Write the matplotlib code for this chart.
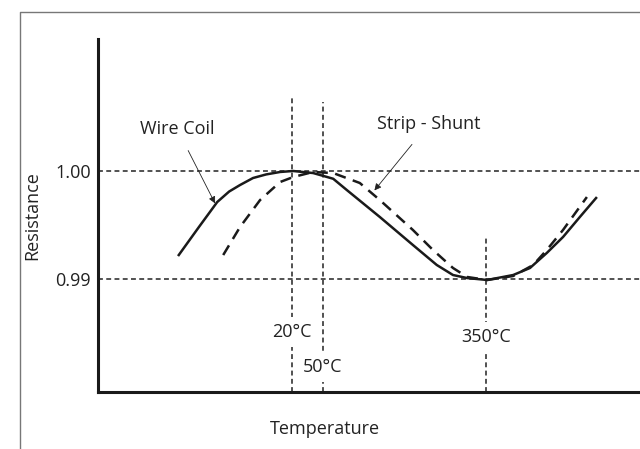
import numpy as np
import matplotlib.pyplot as plt
from matplotlib.lines import Line2D

plt.rcParams['font.family'] = ['Open Sans', 'DejaVu Sans']
plt.rcParams['font.size'] = 13

# 数据 (横轴为任意单位, 0~100)
wire_x = [14.9, 18.6, 22.0, 24.2, 26.2, 28.6, 31.0, 33.6, 36.0, 39.7, 42.3, 43.4,
          45.9, 52.0, 58.1, 62.5, 65.5, 68.1, 71.8, 76.6, 79.7, 82.8, 85.8, 88.9, 91.9]
wire_y = [0.99222, 0.99480, 0.99713, 0.99810, 0.99870, 0.99935, 0.99968, 0.99991,
          1.00000, 0.99981, 0.99944, 0.99928, 0.99824, 0.99574, 0.99315, 0.99130,
          0.99037, 0.99009, 0.98991, 0.99037, 0.99102, 0.99241, 0.99389, 0.99574, 0.99750]
shunt_x = [23.1, 26.2, 29.9, 33.6, 36.0, 39.7, 43.4, 48.3, 52.0, 58.1, 61.8,
           65.5, 68.1, 71.8, 76.6, 80.3, 82.8, 85.8, 90.2]
shunt_y = [0.99222, 0.99481, 0.99731, 0.99898, 0.99944, 0.99991, 0.99981, 0.99889,
           0.99731, 0.99454, 0.99269, 0.99102, 0.99019, 0.98991, 0.99028, 0.99130,
           0.99269, 0.99454, 0.99759]
temp_x = [35.8, 41.5, 71.6]
temp_lbl = ['20°C', '50°C', '350°C']
temp_top = [1.00704, 1.00639, 0.99380]
temp_lbl_y = [0.98509, 0.98185, 0.98463]
res_ticks = [0.99, 1.00]
res_lbl = ['0.99', '1.00']

fig = plt.figure(figsize=(6.4, 4.49), dpi=100)
ax = fig.add_axes([98/640, 1-392/449, 1-98/640, 353/449])
ax.set_xlim(0, 100)
ax.set_ylim(0.97954, 1.01222)

# 参考虚线
for v in res_ticks:
    ax.axhline(v, color='#222222', lw=1.1, ls=(0, (3.2, 2.2)), zorder=1)
for x, top, lbl, ly in zip(temp_x, temp_top, temp_lbl, temp_lbl_y):
    ax.vlines(x, 0.97954, top, color='#222222', lw=1.1, ls=(0, (3.2, 2.2)), zorder=1)
    ax.text(x, ly, lbl, ha='center', va='center', color='#222222',
            bbox=dict(fc='white', ec='none', pad=4), zorder=2)

# 曲线
ax.plot(wire_x, wire_y, color='#1a1a1a', lw=1.8, zorder=3)
ax.plot(shunt_x, shunt_y, color='#1a1a1a', lw=1.8, ls=(0, (4.5, 3)), zorder=3)

# 标注
ax.annotate('Wire Coil', xy=(21.6, 0.99700), xytext=(14.6, 1.00390),
            ha='center', va='center', color='#222222',
            arrowprops=dict(arrowstyle='-|>', color='#222222', lw=0.6,
                            mutation_scale=10, shrinkA=8, shrinkB=0))
ax.annotate('Strip - Shunt', xy=(51.0, 0.99820), xytext=(61.0, 1.00435),
            ha='center', va='center', color='#222222',
            arrowprops=dict(arrowstyle='-|>', color='#222222', lw=0.6,
                            mutation_scale=10, shrinkA=8, shrinkB=0))

ax.set_yticks(res_ticks)
ax.set_yticklabels(res_lbl)
ax.set_xticks([])
ax.tick_params(axis='y', length=0, pad=5, labelcolor='#222222')
for s in ['top', 'right']:
    ax.spines[s].set_visible(False)
for s in ['left', 'bottom']:
    ax.spines[s].set_linewidth(2.2)
    ax.spines[s].set_color('#1a1a1a')
ax.set_ylabel('Resistance', color='#222222')
ax.yaxis.set_label_coords(-57/542, 0.5)
ax.set_xlabel('Temperature', color='#222222')
ax.xaxis.set_label_coords(227/542, -28/353)

# 外框
fig.add_artist(Line2D([20/640, 20/640, 1.0], [0.0, 1-12/449, 1-12/449],
                      transform=fig.transFigure, color='#777777', lw=1.0))

fig.savefig('out.png', dpi=100)
